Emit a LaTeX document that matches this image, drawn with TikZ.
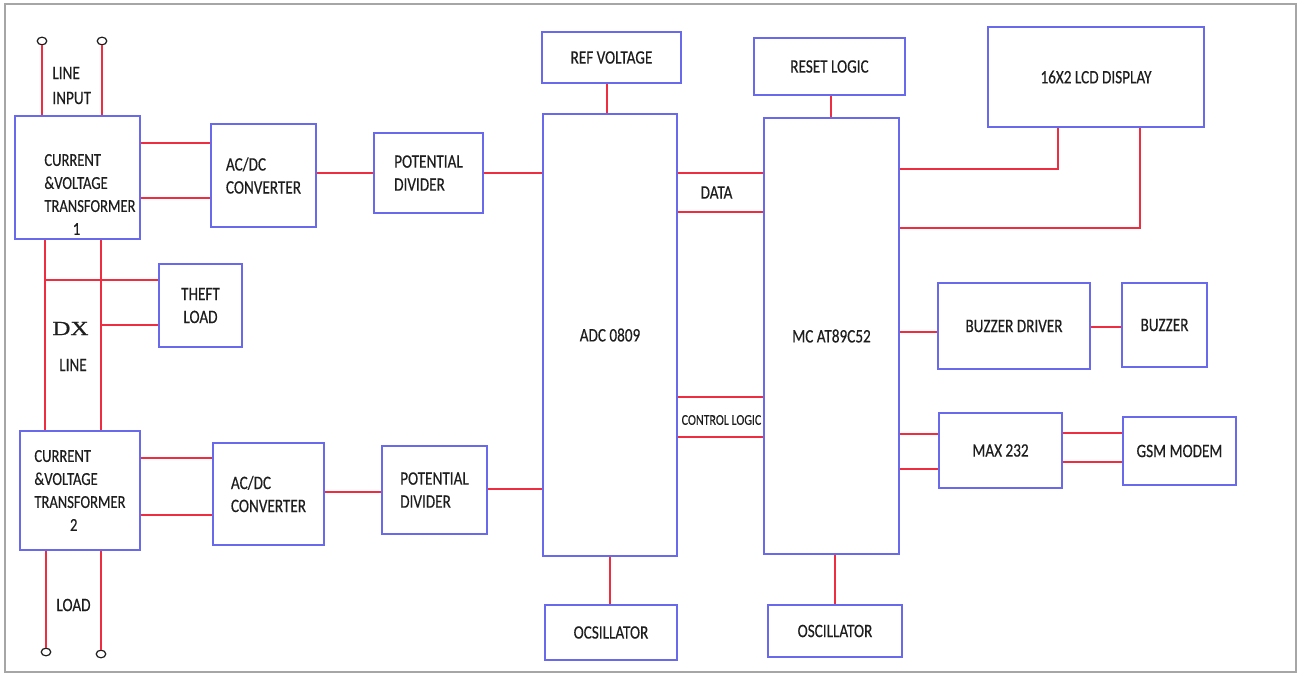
\documentclass[tikz,border=0pt]{standalone}
\usepackage{fontspec}
\setmainfont{Carlito}[FakeStretch=0.8, FakeBold=0.4]
\newfontfamily\dxfont{Liberation Serif}[FakeStretch=1.25, FakeBold=0.8]
\usetikzlibrary{shapes.geometric}
\definecolor{boxblue}{RGB}{105,105,235}
\definecolor{wirered}{RGB}{238,45,65}
\definecolor{inkgray}{RGB}{30,30,30}
\begin{document}
\begin{tikzpicture}[
    x=0.5pt, y=-0.5pt,
    box/.style={rectangle, draw=boxblue, line width=0.8pt, inner sep=0pt, text=inkgray, font=\fontsize{9.5}{11.5}\selectfont, align=center},
    txt/.style={inner sep=0pt, text=inkgray, font=\fontsize{9.5}{11.5}\selectfont},
    wire/.style={draw=wirered, line width=0.7pt},
    term/.style={ellipse, draw=inkgray, line width=0.6pt, minimum width=4.8pt, minimum height=3.8pt, inner sep=0pt}
]
    \useasboundingbox (0,0) rectangle (1301,675);
    \draw[gray!70, line width=1pt] (5,4) rectangle (1296,672);

    % Nodes
    \node[box, minimum width=62.5pt, minimum height=61.5pt] (ct1) at (77.5,177.5) {};
    \node[txt, align=left, anchor=west, font=\fontsize{9.1}{11.5}\selectfont] (ct1txt) at (44,194.5) {CURRENT\\\&VOLTAGE\\TRANSFORMER\\\hspace*{14.2pt}1};
    \node[box, minimum width=52.5pt, minimum height=51.5pt, align=left] (acdc1) at (263.5,175.5) {AC/DC\\CONVERTER};
    \node[box, minimum width=54.5pt, minimum height=40pt, align=left] (pd1) at (428.5,173) {POTENTIAL\\DIVIDER};
    \node[box, minimum width=41.5pt, minimum height=41.5pt] (theft) at (200.5,305.5) {THEFT\\LOAD};
    \node[box, minimum width=60pt, minimum height=59.5pt] (ct2) at (80,490.5) {};
    \node[txt, align=left, anchor=west, font=\fontsize{9.1}{11.5}\selectfont] (ct2txt) at (34,490.5) {CURRENT\\\&VOLTAGE\\TRANSFORMER\\\hspace*{17.8pt}2};
    \node[box, minimum width=55.5pt, minimum height=51pt, align=left] (acdc2) at (268.5,494) {AC/DC\\CONVERTER};
    \node[box, minimum width=52.5pt, minimum height=44pt, align=left] (pd2) at (434.5,490) {POTENTIAL\\DIVIDER};
    \node[box, minimum width=67pt, minimum height=221pt] (adc) at (610,335) {ADC 0809};
    \node[box, minimum width=69.5pt, minimum height=25.5pt] (refv) at (611.5,57.5) {REF VOLTAGE};
    \node[box, minimum width=66pt, minimum height=27.5pt] (osc1) at (611,632.5) {OCSILLATOR};
    \node[box, minimum width=67.5pt, minimum height=218pt] (mc) at (831.5,336) {MC AT89C52};
    \node[box, minimum width=75.5pt, minimum height=28.5pt] (reset) at (829.5,66.5) {RESET LOGIC};
    \node[box, minimum width=67pt, minimum height=26pt] (osc2) at (835,631) {OSCILLATOR};
    \node[box, minimum width=108pt, minimum height=50pt] (lcd) at (1096,77) {16X2 LCD DISPLAY};
    \node[box, minimum width=76pt, minimum height=43pt] (bzdrv) at (1014,326) {BUZZER DRIVER};
    \node[box, minimum width=42.5pt, minimum height=42pt] (buzzer) at (1164.5,325) {BUZZER};
    \node[box, minimum width=61.5pt, minimum height=37.5pt] (max) at (1000.5,450.5) {MAX 232};
    \node[box, minimum width=56.5pt, minimum height=34pt] (gsm) at (1179.5,451) {GSM MODEM};

    % Terminals and labels
    \node[term] (in1) at (42,41) {};
    \node[term] (in2) at (102,41) {};
    \node[term] (out1) at (46,652) {};
    \node[term] (out2) at (101,654) {};
    \node[txt, align=left, anchor=west, font=\fontsize{9.5}{12.5}\selectfont] (lineinput) at (52,85.5) {LINE\\INPUT};
    \node[txt, font=\dxfont\fontsize{10}{12}\selectfont] (dx) at (70.5,328.5) {DX};
    \node[txt] (dxline) at (73,365) {LINE};
    \node[txt] (load) at (73.5,605) {LOAD};
    \node[txt] (data) at (716.5,192.5) {DATA};
    \node[txt, font=\fontsize{7.5}{9}\selectfont] (ctrl) at (721.5,420) {CONTROL LOGIC};
    \coordinate (tap1) at (45,280);
    \coordinate (tap2) at (101,325);

    % Lines
    \draw[wire] (in1.south) -- (in1.south |- ct1.north);
    \draw[wire] (in2.south) -- (in2.south |- ct1.north);
    \draw[wire] (ct1.south -| tap1) -- (ct2.north -| tap1);
    \draw[wire] (ct1.south -| tap2) -- (ct2.north -| tap2);
    \draw[wire] (tap1) -- (tap1 -| theft.west);
    \draw[wire] (tap2) -- (tap2 -| theft.west);
    \draw[wire] (ct2.south -| out1) -- (out1.north);
    \draw[wire] (ct2.south -| out2) -- (out2.north);

    \draw[wire] (ct1.east |- 0,143) -- (acdc1.west |- 0,143);
    \draw[wire] (ct1.east |- 0,198) -- (acdc1.west |- 0,198);
    \draw[wire] (acdc1.east |- 0,173) -- (pd1.west |- 0,173);
    \draw[wire] (pd1.east |- 0,173) -- (adc.west |- 0,173);
    \draw[wire] (ct2.east |- 0,458) -- (acdc2.west |- 0,458);
    \draw[wire] (ct2.east |- 0,515) -- (acdc2.west |- 0,515);
    \draw[wire] (acdc2.east |- 0,492) -- (pd2.west |- 0,492);
    \draw[wire] (pd2.east |- 0,489) -- (adc.west |- 0,489);

    \draw[wire] (refv.south -| 607,0) -- (adc.north -| 607,0);
    \draw[wire] (adc.south -| 610,0) -- (osc1.north -| 610,0);
    \draw[wire] (reset.south -| 831,0) -- (mc.north -| 831,0);
    \draw[wire] (mc.south -| 835,0) -- (osc2.north -| 835,0);

    \draw[wire] (adc.east |- 0,173) -- (mc.west |- 0,173);
    \draw[wire] (adc.east |- 0,212) -- (mc.west |- 0,212);
    \draw[wire] (adc.east |- 0,397) -- (mc.west |- 0,397);
    \draw[wire] (adc.east |- 0,437) -- (mc.west |- 0,437);

    \draw[wire] (mc.east |- 0,169) -| (lcd.south -| 1058,0);
    \draw[wire] (mc.east |- 0,228) -| (lcd.south -| 1140,0);
    \draw[wire] (mc.east |- 0,332) -- (bzdrv.west |- 0,332);
    \draw[wire] (bzdrv.east |- 0,327) -- (buzzer.west |- 0,327);
    \draw[wire] (mc.east |- 0,434) -- (max.west |- 0,434);
    \draw[wire] (mc.east |- 0,469) -- (max.west |- 0,469);
    \draw[wire] (max.east |- 0,433) -- (gsm.west |- 0,433);
    \draw[wire] (max.east |- 0,462) -- (gsm.west |- 0,462);
\end{tikzpicture}
\end{document}
